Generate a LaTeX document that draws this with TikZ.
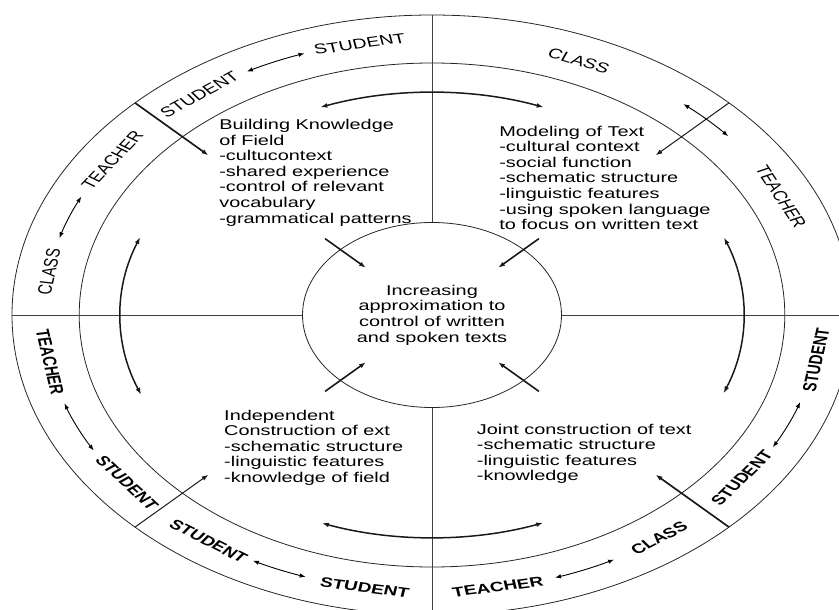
\documentclass[tikz,border=0pt]{standalone}
\usepackage{fontspec}
\setmainfont{Liberation Sans}
\usetikzlibrary{arrows.meta}
\begin{document}
\begin{tikzpicture}[x=1pt,y=1pt,
  ring/.style={draw=black!85, line width=0.8pt},
  axis/.style={draw=black!75, line width=0.9pt},
  ringarrow/.style={{Latex[length=6pt,width=4.4pt]}-{Latex[length=6pt,width=4.4pt]}, line width=0.9pt, black},
  cyclearrow/.style={{Latex[length=7pt,width=4.8pt]}-{Latex[length=7pt,width=4.8pt]}, line width=1.5pt, black!90},
  heavy/.style={-{Latex[length=6.5pt,width=4.8pt]}, line width=1.7pt, black!90},
  light/.style={-{Latex[length=6.5pt,width=4.8pt]}, line width=1pt, black!90},
  inward/.style={-{Latex[length=6.5pt,width=4.8pt]}, line width=1.6pt, black!90},
  body/.style={inner sep=0pt, align=left, anchor=north west, font=\fontsize{14.2}{15.6}\selectfont},
  role/.style={inner sep=0pt, font=\fontsize{14}{14}\selectfont},
  rolebold/.style={inner sep=0pt, font=\fontsize{13.6}{14}\selectfont\bfseries},
]
\useasboundingbox (0,0) rectangle (839,-610);
\clip (0,0) rectangle (839,-610);
\begin{scope}[shift={(432,-315)}, xscale=1.4, transform shape]
  % rings
  \draw[ring] (0,0) circle[radius=300];
  \draw[ring] (0,0) circle[radius=252];
  \node[circle, draw=black!85, line width=0.8pt, minimum size=185, inner sep=0pt,
        align=center, font=\fontsize{14.2}{15.6}\selectfont] (ctr) at (0,0)
        {Increasing\\approximation to\\control of written\\and spoken texts};

  % quadrant axes
  \coordinate (oN) at (90:300);
  \coordinate (oS) at (270:300);
  \coordinate (oW) at (180:300);
  \coordinate (oE) at (0:300);
  \draw[axis] (oN) -- (ctr.north);
  \draw[axis] (ctr.south) -- (oS);
  \draw[axis] (oW) -- (ctr.west);
  \draw[axis] (ctr.east) -- (oE);

  % stage boxes
  \node[body] (field) at (-152.1,196)
    {Building Knowledge\\of Field\\-cultucontext\\-shared experience\\-control of relevant\\vocabulary\\-grammatical patterns};
  \node[body] (model) at (47.9,189.3)
    {Modeling of Text\\-cultural context\\-social function\\-schematic structure\\-linguistic features\\-using spoken language\\to focus on written text};
  \node[body] (indep) at (-148.6,-94.7)
    {Independent\\Construction of ext\\-schematic structure\\-linguistic features\\-knowledge of field};
  \node[body] (joint) at (31.9,-108.7)
    {Joint construction of text\\-schematic structure\\-linguistic features\\-knowledge};

  % cycle arrows between the stages
  \coordinate (cT) at (69:222.5);
  \coordinate (cL) at (159.5:222.5);
  \coordinate (cB) at (249.3:222.5);
  \coordinate (cR) at (-20.6:222.5);
  \draw[cyclearrow] (cT) arc[start angle=69, end angle=111, radius=222.5];
  \draw[cyclearrow] (cL) arc[start angle=159.5, end angle=201, radius=222.5];
  \draw[cyclearrow] (cB) arc[start angle=249.3, end angle=290.9, radius=222.5];
  \draw[cyclearrow] (cR) arc[start angle=-20.6, end angle=20.4, radius=222.5];

  % arrows into the centre
  \foreach \a in {45,135,225,315}{
    \coordinate (in\a) at (\a:108);
    \coordinate (inTip\a) at (\a:67);
    \draw[inward] (in\a) -- (inTip\a);
  }

  % stage dividers on the outer ring
  \foreach \a/\s in {135/heavy,315/heavy,45/light,225/light}{
    \coordinate (dv\a) at (\a:300);
    \coordinate (dvTip\a) at (\a:226);
    \draw[\s] (dv\a) -- (dvTip\a);
  }

  % participant labels, upper half
  \node[role, rotate=10.8]  (u1) at (100.8:276) {STUDENT};
  \node[role, rotate=37]    (u2) at (127:276)   {STUDENT};
  \node[role, rotate=55.8]  (u3) at (145.8:276) {TEACHER};
  \node[role, rotate=81]    (u4) at (171:277)   {CLASS};
  \node[role, rotate=-22.4] (u5) at (67.6:275)  {CLASS};
  \node[role, rotate=-64.6] (u6) at (25.4:276)  {TEACHER};

  % participant labels, lower half
  \node[rolebold, rotate=279.8] (l1) at (189.8:277) {TEACHER};
  \node[rolebold, rotate=307.6] (l2) at (217.6:275) {STUDENT};
  \node[rolebold, rotate=324.8] (l3) at (234.8:277) {STUDENT};
  \node[rolebold, rotate=350]   (l4) at (260:277)   {STUDENT};
  \node[rolebold, rotate=9.8]   (l5) at (279.8:276) {TEACHER};
  \node[rolebold, rotate=36]    (l6) at (306:276)   {CLASS};
  \node[rolebold, rotate=53.6]  (l7) at (323.6:275) {STUDENT};
  \node[rolebold, rotate=80.7]  (l8) at (350.7:278) {STUDENT};

  % exchanges between participants
  \foreach \p/\q [count=\k] in {109.2/118.5, 154.7/163.9, 198.6/209.3, 242.5/251,
                     288.5/298, 331.5/341.7, 40.2/49.6}{
    \coordinate (ex\k) at (\p:277);
    \draw[ringarrow] (ex\k) arc[start angle=\p, end angle=\q, radius=277];
  }
\end{scope}
\end{tikzpicture}
\end{document}
